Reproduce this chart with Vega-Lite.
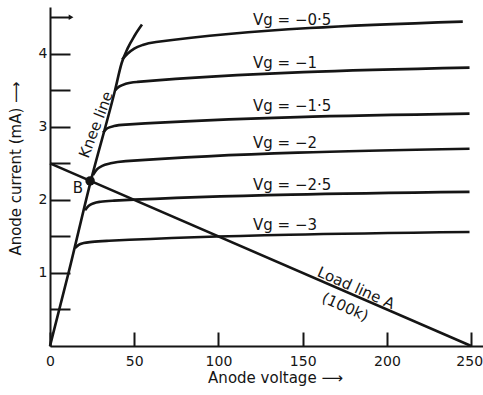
{
  "$schema": "https://vega.github.io/schema/vega-lite/v6.json",
  "width": 433,
  "height": 339,
  "autosize": "none",
  "padding": {"left": 50, "top": 7, "right": 0, "bottom": 49},
  "background": "#ffffff",
  "config": {"view": {"stroke": null}, "font": "DejaVu Sans"},
  "datasets": {
    "curves": [
      {"vg": "-0.5", "v": 42.8, "i": 3.92}, {"vg": "-0.5", "v": 46, "i": 4.0}, {"vg": "-0.5", "v": 50, "i": 4.07}, {"vg": "-0.5", "v": 55, "i": 4.12}, {"vg": "-0.5", "v": 63, "i": 4.16}, {"vg": "-0.5", "v": 245, "i": 4.44},
      {"vg": "-1", "v": 38.6, "i": 3.5}, {"vg": "-1", "v": 41, "i": 3.55}, {"vg": "-1", "v": 45, "i": 3.59}, {"vg": "-1", "v": 52, "i": 3.615}, {"vg": "-1", "v": 249, "i": 3.81},
      {"vg": "-1.5", "v": 31.5, "i": 2.92}, {"vg": "-1.5", "v": 34, "i": 2.98}, {"vg": "-1.5", "v": 38, "i": 3.01}, {"vg": "-1.5", "v": 45, "i": 3.03}, {"vg": "-1.5", "v": 249, "i": 3.18},
      {"vg": "-2", "v": 25.5, "i": 2.34}, {"vg": "-2", "v": 28, "i": 2.42}, {"vg": "-2", "v": 31, "i": 2.465}, {"vg": "-2", "v": 36, "i": 2.5}, {"vg": "-2", "v": 45, "i": 2.53}, {"vg": "-2", "v": 249, "i": 2.7},
      {"vg": "-2.5", "v": 20.8, "i": 1.86}, {"vg": "-2.5", "v": 23, "i": 1.92}, {"vg": "-2.5", "v": 26, "i": 1.955}, {"vg": "-2.5", "v": 30, "i": 1.975}, {"vg": "-2.5", "v": 38, "i": 1.99}, {"vg": "-2.5", "v": 249, "i": 2.11},
      {"vg": "-3", "v": 14.8, "i": 1.34}, {"vg": "-3", "v": 17, "i": 1.385}, {"vg": "-3", "v": 20, "i": 1.41}, {"vg": "-3", "v": 25, "i": 1.425}, {"vg": "-3", "v": 35, "i": 1.44}, {"vg": "-3", "v": 249, "i": 1.56}
    ],
    "knee": [
      {"v": 0, "i": 0}, {"v": 11, "i": 1.0}, {"v": 24, "i": 2.24}, {"v": 38.6, "i": 3.5}, {"v": 42.5, "i": 3.87}, {"v": 46, "i": 4.07}, {"v": 50, "i": 4.24}, {"v": 54.6, "i": 4.4}
    ],
    "load": [{"v": 0, "i": 2.5}, {"v": 250, "i": 0}],
    "pointB": [{"v": 23.8, "i": 2.26}],
    "arrowhead": [{"v": 12.5, "i": 4.5}],
    "vglabels": [
      {"v": 120.5, "i": 4.4, "label": "Vg = −0·5"},
      {"v": 120.5, "i": 3.81, "label": "Vg = −1"},
      {"v": 120.5, "i": 3.21, "label": "Vg = −1·5"},
      {"v": 120.5, "i": 2.71, "label": "Vg = −2"},
      {"v": 120.5, "i": 2.14, "label": "Vg = −2·5"},
      {"v": 120.5, "i": 1.59, "label": "Vg = −3"}
    ],
    "kneelabel": [{"v": 27.3, "i": 3.03, "label": "Knee line"}],
    "loadlabels": [{"v": 181.7, "i": 0.795, "label": "Load line A"}, {"v": 175.2, "i": 0.534, "label": "(100k)"}],
    "blabel": [{"v": 16.6, "i": 2.16, "label": "B"}]
  },
  "encoding": {
    "x": {
      "field": "v", "type": "quantitative",
      "scale": {"domain": [0, 257], "nice": false, "zero": false},
      "axis": {
        "title": "Anode voltage ⟶", "values": [0, 50, 100, 150, 200, 250], "grid": false, "format": "d",
        "tickSize": -14, "tickWidth": 2, "tickColor": "#151515", "domainColor": "#151515", "domainWidth": 2,
        "labelFont": "DejaVu Sans", "labelFontSize": 14, "labelColor": "#151515", "labelPadding": 22,
        "labelFlush": false, "labelOverlap": false,
        "labelOffset": {"condition": {"test": "datum.value == 250", "value": -2}, "value": 0},
        "titleFont": "DejaVu Sans", "titleFontSize": 15, "titleFontWeight": "normal", "titleColor": "#151515",
        "titleX": 225, "titleY": 31, "titleAlign": "center", "titleBaseline": "middle"
      }
    },
    "y": {
      "field": "i", "type": "quantitative",
      "scale": {"domain": [0, 4.64], "nice": false},
      "axis": {
        "title": "Anode current (mA) ⟶", "values": [0.5, 1, 1.5, 2, 2.5, 3, 3.5, 4, 4.5], "grid": false, "format": "~g",
        "labelExpr": "datum.value % 1 == 0 ? datum.label : ''",
        "tickSize": -20, "tickWidth": 2, "tickColor": "#151515", "domainColor": "#151515", "domainWidth": 2,
        "labelFont": "DejaVu Sans", "labelFontSize": 14, "labelColor": "#151515", "labelPadding": 23,
        "labelOverlap": false, "labelFlush": false,
        "titleFont": "DejaVu Sans", "titleFontSize": 15, "titleFontWeight": "normal", "titleColor": "#151515",
        "titleX": -35, "titleY": 161, "titleAngle": -90, "titleAlign": "center", "titleBaseline": "middle"
      }
    }
  },
  "layer": [
    {"data": {"name": "curves"}, "mark": {"type": "line", "interpolate": "monotone", "color": "#151515", "strokeWidth": 2.6}, "encoding": {"detail": {"field": "vg", "type": "nominal"}}},
    {"data": {"name": "knee"}, "mark": {"type": "line", "interpolate": "monotone", "color": "#151515", "strokeWidth": 2.6}, "encoding": {}},
    {"data": {"name": "load"}, "mark": {"type": "line", "color": "#151515", "strokeWidth": 2.6}, "encoding": {}},
    {"data": {"name": "pointB"}, "mark": {"type": "point", "filled": true, "color": "#151515", "size": 90, "opacity": 1}},
    {"data": {"name": "arrowhead"}, "mark": {"type": "point", "shape": "triangle-right", "filled": true, "color": "#151515", "size": 30, "opacity": 1}},
    {"data": {"name": "vglabels"}, "mark": {"type": "text", "align": "left", "baseline": "alphabetic", "font": "DejaVu Sans", "fontSize": 15, "color": "#151515"}, "encoding": {"text": {"field": "label"}}},
    {"data": {"name": "kneelabel"}, "mark": {"type": "text", "align": "center", "baseline": "middle", "angle": -69, "font": "DejaVu Sans", "fontSize": 15, "color": "#151515"}, "encoding": {"text": {"field": "label"}}},
    {"data": {"name": "loadlabels"}, "mark": {"type": "text", "align": "center", "baseline": "middle", "angle": 24, "font": "DejaVu Sans", "fontSize": 15, "color": "#151515"}, "encoding": {"text": {"field": "label"}}},
    {"data": {"name": "blabel"}, "mark": {"type": "text", "align": "center", "baseline": "middle", "font": "DejaVu Sans", "fontSize": 15, "color": "#151515"}, "encoding": {"text": {"field": "label"}}}
  ]
}
